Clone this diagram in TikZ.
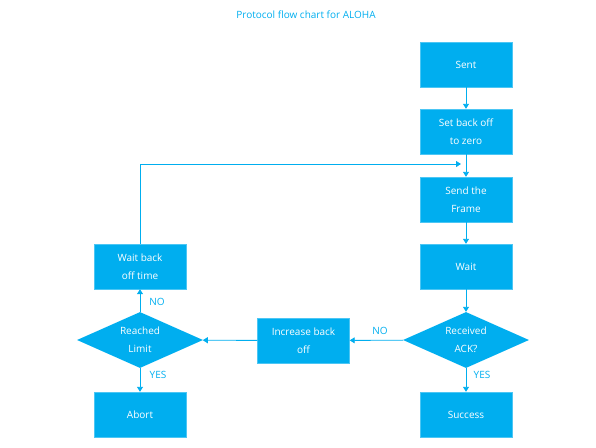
\documentclass[tikz,border=0pt]{standalone}
\usepackage{fontspec}
\setmainfont{Open Sans}
\usetikzlibrary{arrows.meta,shapes.geometric}
\definecolor{aloha}{HTML}{00AEEF}
\begin{document}
\begin{tikzpicture}[x=1pt,y=-1pt,
  font=\fontsize{10}{18}\selectfont,
  box/.style={draw=aloha!70,fill=aloha,text=white,minimum width=92pt,minimum height=45pt,inner sep=0pt,align=center},
  dec/.style={diamond,fill=aloha,text=white,minimum width=126pt,minimum height=56pt,aspect=2.25,inner sep=0pt,align=center},
  conn/.style={draw=aloha,line width=0.9pt,-{Triangle[width=6pt,length=5pt]}},
  lbl/.style={text=aloha,font=\fontsize{10}{12}\selectfont}]
\useasboundingbox (0,0) rectangle (596,447);
\node[text=aloha,font=\fontsize{10}{12}\selectfont] (title) at (306,15) {Protocol flow chart for ALOHA};
\node[box] (sent) at (466,64.5) {Sent};
\node[box] (setb) at (466,131.5) {Set back off\\to zero};
\node[box] (send) at (466,199.5) {Send the\\Frame};
\node[box] (wait) at (466,266.5) {Wait};
\node[dec] (recv) at (466,340) {Received\\ACK?};
\node[box] (succ) at (466,414.5) {Success};
\node[box] (incr) at (303.5,340.5) {Increase back\\off};
\node[dec] (reach) at (140,340) {Reached\\Limit};
\node[box] (wbo) at (140,266.5) {Wait back\\off time};
\node[box] (abort) at (140,414.5) {Abort};
\coordinate (loopc) at (140,164);
\coordinate (loopend) at (461,164);
\draw[conn] (sent) -- (setb);
\draw[conn] (setb) -- (send);
\draw[conn] (send) -- (wait);
\draw[conn] (wait) -- (recv);
\draw[conn] (recv) -- (succ);
\draw[conn] (recv) -- (incr);
\draw[conn] (incr) -- (reach);
\draw[conn] (reach) -- (wbo);
\draw[conn] (reach) -- (abort);
\draw[conn] (wbo.north) -- (loopc) -- (loopend);
\node[lbl] (l1) at (157,302) {NO};
\node[lbl] (l2) at (158,375) {YES};
\node[lbl] (l3) at (380,331) {NO};
\node[lbl] (l4) at (482,375) {YES};
\end{tikzpicture}
\end{document}
